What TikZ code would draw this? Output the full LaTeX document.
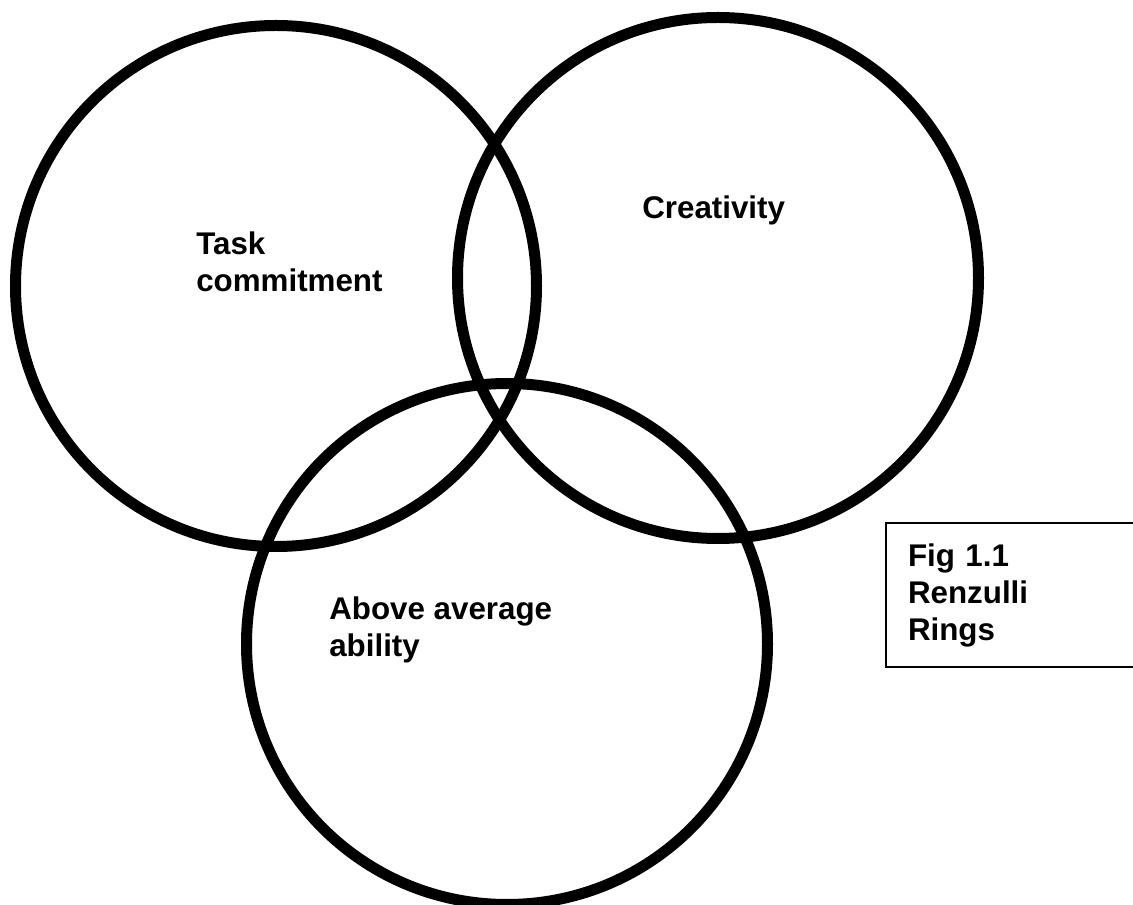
\documentclass[tikz,border=0pt]{standalone}
\usepackage{fontspec}
\setmainfont{Liberation Sans}
\begin{document}
\begin{tikzpicture}[x=0.75pt, y=-0.75pt,
    ring/.style = {circle, draw, line width=8.25pt, minimum size=390.75pt, inner sep=0pt},
    lbl/.style = {anchor=north west, inner sep=0pt, align=left, font=\fontsize{23.5}{27.75}\selectfont\bfseries}]
  \useasboundingbox (0,0) rectangle (1133,905);
  \clip (0,0) rectangle (1133,905);

  \node[ring] (task) at (276, 286) {};
  \node[ring] (crea) at (718, 278) {};
  \node[ring] (abil) at (507, 644) {};

  \node[lbl] (taskl) at (196, 232) {Task\\commitment};
  \node[lbl] (creal) at (642, 196) {Creativity};
  \node[lbl] (abill) at (329, 597) {Above average\\ability};

  \node[draw, line width=1.5pt, anchor=north west, minimum height=108pt, text width=160pt,
        inner xsep=16.5pt, align=left, font=\fontsize{23.5}{27.75}\selectfont\bfseries]
        (fig) at (885, 522) {Fig 1.1\\Renzulli\\Rings};
\end{tikzpicture}
\end{document}
